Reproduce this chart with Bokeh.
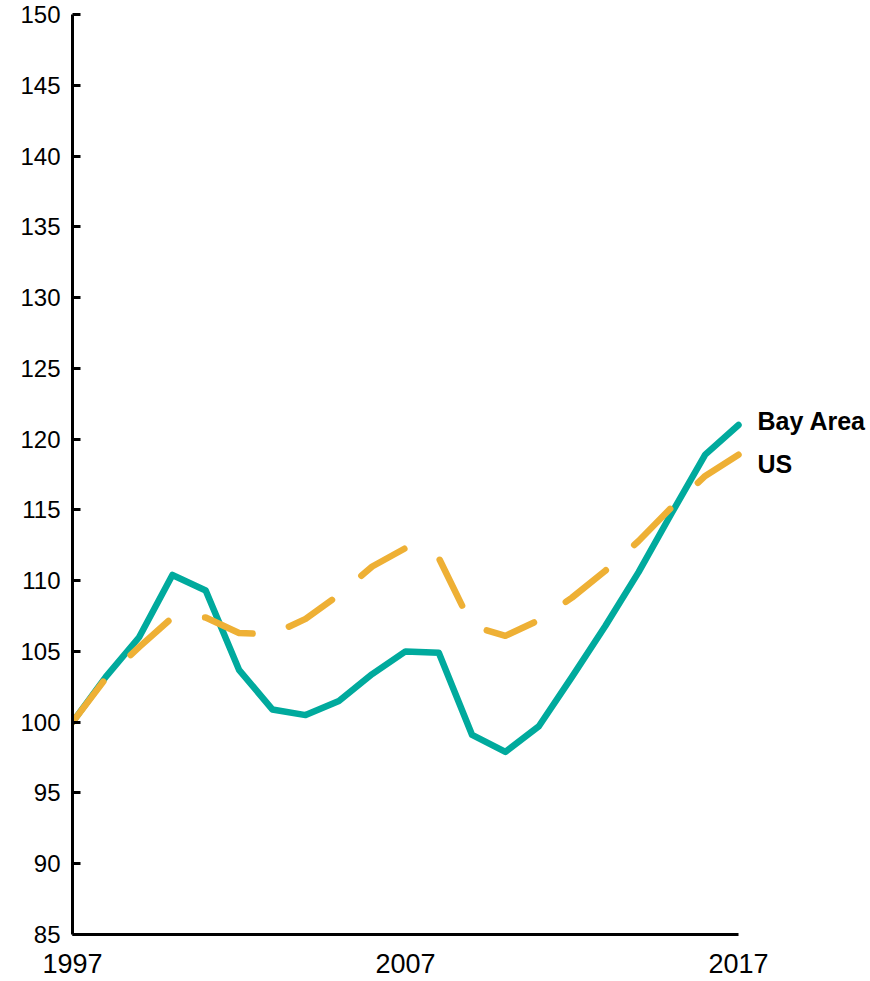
from bokeh.plotting import figure
from bokeh.models import Range1d, FixedTicker
from bokeh.core.properties import value
from bokeh.embed import file_html
from bokeh.resources import INLINE

years = list(range(1997, 2018))
bay_area = [100.0, 103.2, 106.0, 110.4, 109.3, 103.7, 100.9, 100.5, 101.5, 103.4,
            105.0, 104.9, 99.1, 97.9, 99.7, 103.2, 106.8, 110.6, 114.8, 118.9, 121.0]
us = [100.0, 103.1, 105.3, 107.4, 107.4, 106.3, 106.2, 107.3, 109.0, 111.0,
      112.3, 111.6, 106.8, 106.1, 107.2, 108.8, 110.7, 112.8, 115.2, 117.4, 118.9]
x_ticks = [1997, 2007, 2017]
y_ticks = list(range(85, 151, 5))
series_names = ["Bay Area", "US"]

TEAL = "#00AA9D"
ORANGE = "#EEB035"

W, H = 870, 981
LEFT, RIGHT, TOP, BOTTOM = 72, 0, 14, 47
frame_w = W - LEFT - RIGHT
axis_px = 666  # pixel length of the 1997-2017 axis
x_end = years[0] + (years[-1] - years[0]) * frame_w / axis_px

p = figure(width=W, height=H, output_backend="svg", toolbar_location=None,
           x_range=Range1d(years[0], x_end), y_range=Range1d(85, 150),
           min_border_left=LEFT, min_border_right=RIGHT, min_border_top=TOP,
           min_border_bottom=BOTTOM)
p.outline_line_color = None
p.xgrid.grid_line_color = None
p.ygrid.grid_line_color = None
p.background_fill_color = "white"
p.border_fill_color = "white"

p.line(years, bay_area, line_color=TEAL, line_width=6.5, line_join="round", line_cap="round")
p.line(years, us, line_color=ORANGE, line_width=6.5, line_join="round", line_cap="round",
       line_dash="51 38")

# end labels
p.text(x=[years[-1], years[-1]], y=[bay_area[-1], us[-1]], text=series_names,
       x_offset=19, y_offset=[-4, 9],
       text_font=value("Liberation Sans"), text_font_style="bold",
       text_font_size="25px", text_color="black",
       text_baseline="middle", text_align="left")

# axes
p.xaxis.ticker = FixedTicker(ticks=x_ticks)
p.xaxis.bounds = (years[0], years[-1])
p.xaxis.major_tick_line_color = None
p.xaxis.minor_tick_line_color = None
p.xaxis.axis_line_width = 3
p.xaxis.axis_line_color = "black"
p.xaxis.major_label_text_font = "Liberation Sans"
p.xaxis.major_label_text_font_size = "27px"
p.xaxis.major_label_text_color = "black"
p.xaxis.major_label_standoff = 13

p.yaxis.ticker = FixedTicker(ticks=y_ticks)
p.yaxis.major_tick_in = 8
p.yaxis.major_tick_out = 0
p.yaxis.major_tick_line_width = 3
p.yaxis.major_tick_line_color = "black"
p.yaxis.minor_tick_line_color = None
p.yaxis.axis_line_width = 3
p.yaxis.axis_line_color = "black"
p.yaxis.major_label_text_font = "Liberation Sans"
p.yaxis.major_label_text_font_size = "24px"
p.yaxis.major_label_text_color = "black"
p.yaxis.major_label_standoff = 12

open("out.html", "w").write(file_html(p, INLINE))
